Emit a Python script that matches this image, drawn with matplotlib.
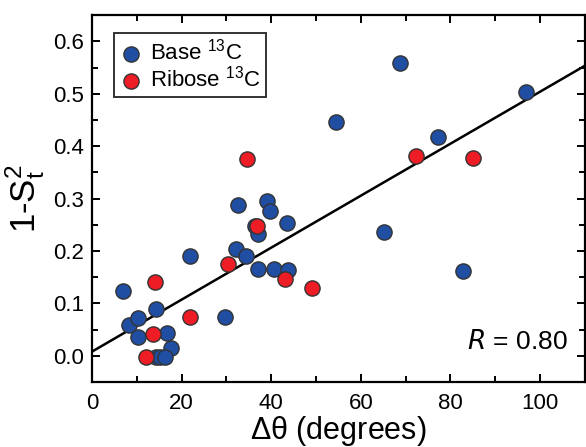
import matplotlib
matplotlib.use("Agg")
import matplotlib.pyplot as plt
from matplotlib.ticker import MultipleLocator
import numpy as np

plt.rcParams['font.family'] = ['Liberation Sans', 'DejaVu Sans']

# Data
base_x = [6.9, 8.3, 10.3, 10.2, 14.2, 16.7, 17.6, 14.3, 15.2, 16.3, 21.9, 29.7,
          32.6, 32.1, 34.3, 39.1, 39.7, 36.4, 37.1, 37.0, 40.7, 43.7, 43.5,
          54.5, 65.2, 68.75, 77.2, 82.7, 96.9]
base_y = [0.124, 0.058, 0.072, 0.036, 0.090, 0.043, 0.015, -0.002, -0.002, -0.002, 0.190, 0.075,
          0.287, 0.204, 0.190, 0.296, 0.277, 0.248, 0.233, 0.165, 0.165, 0.164, 0.253,
          0.446, 0.237, 0.558, 0.417, 0.162, 0.503]
ribose_x = [12.0, 13.7, 14.1, 21.9, 30.3, 34.6, 36.9, 43.1, 49.0, 72.3, 85.0]
ribose_y = [-0.003, 0.041, 0.141, 0.074, 0.175, 0.375, 0.247, 0.147, 0.129, 0.381, 0.377]
fit_slope = 0.00496
fit_intercept = 0.008
r_value = 0.80

fig = plt.figure(figsize=(5.86, 4.47), dpi=100)
ax = fig.add_axes([0.157, 0.1454, 0.841, 0.8205])

xs = np.array([0, 110])
ax.plot(xs, fit_intercept + fit_slope * xs, color='black', lw=1.8, zorder=2)

ax.scatter(base_x, base_y, s=120, color='#1f4ea3', edgecolors='#333333',
           linewidths=1.0, zorder=3, label='Base $\\mathregular{^{13}}$C')
ax.scatter(ribose_x, ribose_y, s=120, color='#ee1c25', edgecolors='#333333',
           linewidths=1.0, zorder=4, label='Ribose $\\mathregular{^{13}}$C')

ax.set_xlim(0, 110)
ax.set_ylim(-0.05, 0.65)
ax.xaxis.set_major_locator(MultipleLocator(20))
ax.xaxis.set_minor_locator(MultipleLocator(10))
ax.yaxis.set_major_locator(MultipleLocator(0.1))
ax.yaxis.set_minor_locator(MultipleLocator(0.05))
ax.set_yticks([0.0, 0.1, 0.2, 0.3, 0.4, 0.5, 0.6])
ax.set_yticklabels(['0.0', '0.1', '0.2', '0.3', '0.4', '0.5', '0.6'])

ax.tick_params(which='both', direction='in', top=True, right=True,
               width=1.4, labelsize=16)
ax.tick_params(axis='x', which='both', pad=8)
ax.tick_params(axis='y', which='both', pad=6)
ax.tick_params(which='major', length=6)
ax.tick_params(which='minor', length=4)
for sp in ax.spines.values():
    sp.set_linewidth(1.6)

ax.set_xlabel('$\\mathregular{\\Delta\\theta}$ (degrees)', fontsize=22, labelpad=0)
ax.set_ylabel('1-$\\mathregular{S_t^2}$', fontsize=25, labelpad=4)

ax.text(0.965, 0.075, '$\\it{R}$ = %.2f' % r_value, transform=ax.transAxes,
        ha='right', va='bottom', fontsize=19)

leg = ax.legend(loc='upper left', bbox_to_anchor=(0.045, 0.951), fontsize=16,
                frameon=True, fancybox=False, edgecolor='black',
                handletextpad=0.35, borderpad=0.25, labelspacing=0.05,
                handlelength=1.0, scatterpoints=1, borderaxespad=0.0)
leg.get_frame().set_linewidth(1.4)

fig.savefig('out.png', dpi=100)
